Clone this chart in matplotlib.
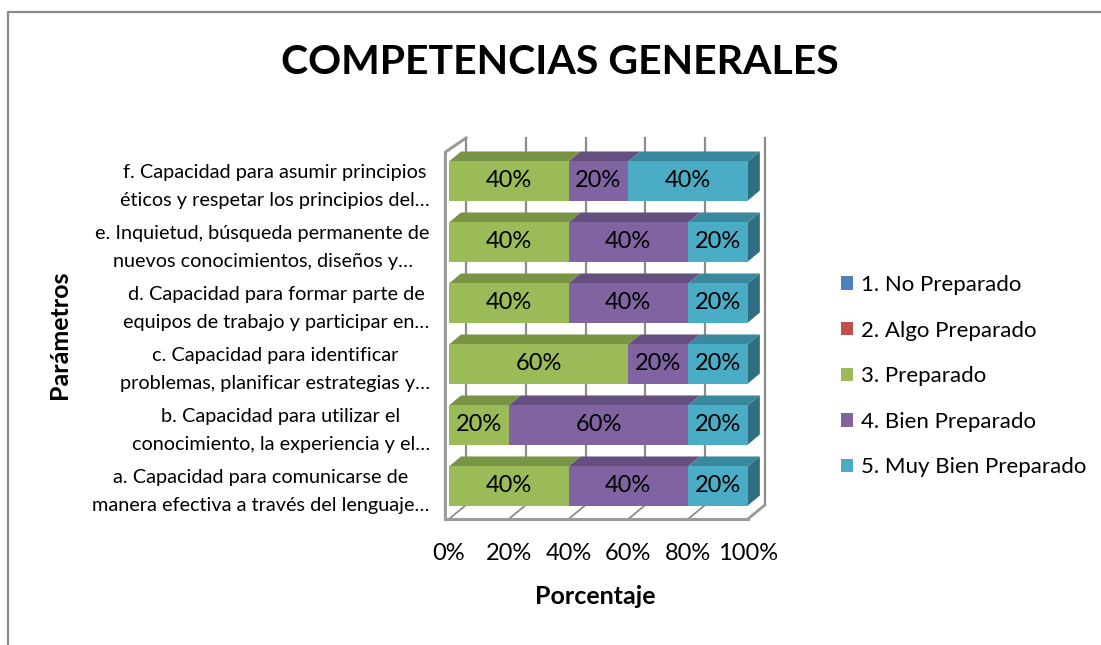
import matplotlib
matplotlib.use("Agg")
import matplotlib.pyplot as plt
from matplotlib.patches import Polygon
from matplotlib.lines import Line2D

plt.rcParams['font.family'] = ['Lato', 'DejaVu Sans']

# categorías de abajo hacia arriba (a ... f)
categorias = [
    "a. Capacidad para comunicarse de\nmanera efectiva a través del lenguaje…",
    "b. Capacidad para utilizar el\nconocimiento, la experiencia y el…",
    "c. Capacidad para identificar\nproblemas, planificar estrategias y…",
    "d. Capacidad para formar parte de\nequipos de trabajo y participar en…",
    "e. Inquietud, búsqueda permanente de\nnuevos conocimientos, diseños y…",
    "f. Capacidad para asumir principios\néticos y respetar los principios del…",
]
series = ["1. No Preparado", "2. Algo Preparado", "3. Preparado",
          "4. Bien Preparado", "5. Muy Bien Preparado"]
no_preparado = [0, 0, 0, 0, 0, 0]
algo_preparado = [0, 0, 0, 0, 0, 0]
preparado = [40, 20, 60, 40, 40, 40]
bien_preparado = [40, 60, 20, 40, 40, 20]
muy_bien_preparado = [20, 20, 20, 20, 20, 40]
ticks_x = [0, 20, 40, 60, 80, 100]

valores = [no_preparado, algo_preparado, preparado, bien_preparado, muy_bien_preparado]
frente = ["#4F81BD", "#C0504D", "#9BBB59", "#8064A2", "#4BACC6"]
arriba = ["#3D6596", "#963E3C", "#7A9446", "#654F80", "#3A889D"]
lado = ["#2F4E74", "#74302E", "#5E7236", "#4E3D63", "#2F6E80"]

# profundidad de barras y paredes (unidades de datos)
bdx, bdy = 4.0, 0.164
wdx, wdy = 5.7, 0.23
alto = 0.64
desp = 0.082
piso = -0.459
grid_col = "#8C8C8C"

fig = plt.figure(figsize=(11.01, 6.45), dpi=100)
W, H = 1101, 645
# ejes en píxeles: izq 445, der 770, abajo 519, arriba 135
ax = fig.add_axes([445 / W, 1 - 519 / H, (770 - 445) / W, (519 - 135) / H])
ax.set_xlim(-1.34, 107.4)
ax.set_ylim(piso, 5.836)
for s in ax.spines.values():
    s.set_visible(False)

# paredes y piso
tope_pared = 5.787
tope_izq = 5.557
for t in ticks_x:
    ax.plot([t + wdx, t + wdx], [piso + wdy, tope_pared], color=grid_col, lw=1.6, zorder=0)
    ax.plot([t, t + wdx], [piso, piso + wdy], color=grid_col, lw=1.3, zorder=0)
ax.plot([-1.2, 100], [piso, piso], color="#9A9A9A", lw=2.2, zorder=0, clip_on=False)
ax.plot([100, 100 + wdx], [piso, piso + wdy], color="#9A9A9A", lw=2.0, zorder=0)
ax.plot([-1.2, -1.2, wdx], [piso, tope_izq, tope_pared], color="#9A9A9A", lw=2.2,
        zorder=0, clip_on=False)

# barras apiladas con caras superior y lateral
y = list(range(len(categorias)))
yb = [v + desp for v in y]
izq = [0] * len(y)
handles = []
for k, vals in enumerate(valores):
    barras = ax.barh(yb, vals, left=izq, height=alto, color=frente[k],
                     label=series[k], zorder=3)
    handles.append(barras)
    for i in range(len(y)):
        if vals[i] <= 0:
            continue
        x0, x1 = izq[i], izq[i] + vals[i]
        top = yb[i] + alto / 2
        bot = yb[i] - alto / 2
        ax.add_patch(Polygon([(x0, top), (x1, top), (x1 + bdx, top + bdy), (x0 + bdx, top + bdy)],
                             closed=True, facecolor=arriba[k], edgecolor="none", zorder=2))
        if x1 >= 100:
            ax.add_patch(Polygon([(x1, bot), (x1 + bdx, bot + bdy), (x1 + bdx, top + bdy), (x1, top)],
                                 closed=True, facecolor=lado[k], edgecolor="none", zorder=2))
    etiquetas = [f"{v}%" if v > 0 else "" for v in vals]
    ax.bar_label(barras, labels=etiquetas, label_type="center", fontsize=17, color="black")
    izq = [a + b for a, b in zip(izq, vals)]

# las etiquetas de dos líneas van un poco más arriba del centro
ax.set_yticks([v + 0.1 for v in y])
ax.set_yticklabels(categorias, fontsize=14.3, multialignment="center", linespacing=1.78)
ax.set_xticks(ticks_x)
ax.set_xticklabels([f"{t}%" for t in ticks_x], fontsize=17)
ax.tick_params(axis="y", length=0, pad=11)
ax.tick_params(axis="x", length=0, pad=17)

ax.set_xlabel("Porcentaje", fontsize=18, fontweight="bold")
ax.xaxis.set_label_coords((595 - 445) / 325, (519 - 585) / 384)
ax.set_ylabel("Parámetros", fontsize=18, fontweight="bold")
ax.yaxis.set_label_coords((71 - 445) / 325, (519 - 335) / 384)

fig.text(560 / W, 1 - 63 / H, "COMPETENCIAS GENERALES", ha="center", va="center",
         fontsize=29.5, fontweight="bold")

fig.legend(handles=handles, labels=series, loc="upper left",
           bbox_to_anchor=(841 / W, 1 - 275 / H), frameon=False, fontsize=16,
           handlelength=0.55, handleheight=0.55, handletextpad=0.35, labelspacing=1.15,
           borderpad=0, borderaxespad=0)

# marco del gráfico (borde izquierdo y superior)
fig.add_artist(Line2D([8 / W, 8 / W, 1], [0, 1 - 12 / H, 1 - 12 / H],
                      transform=fig.transFigure, color="#8A8A8A", lw=1.6))

fig.savefig("out.png", dpi=100)
